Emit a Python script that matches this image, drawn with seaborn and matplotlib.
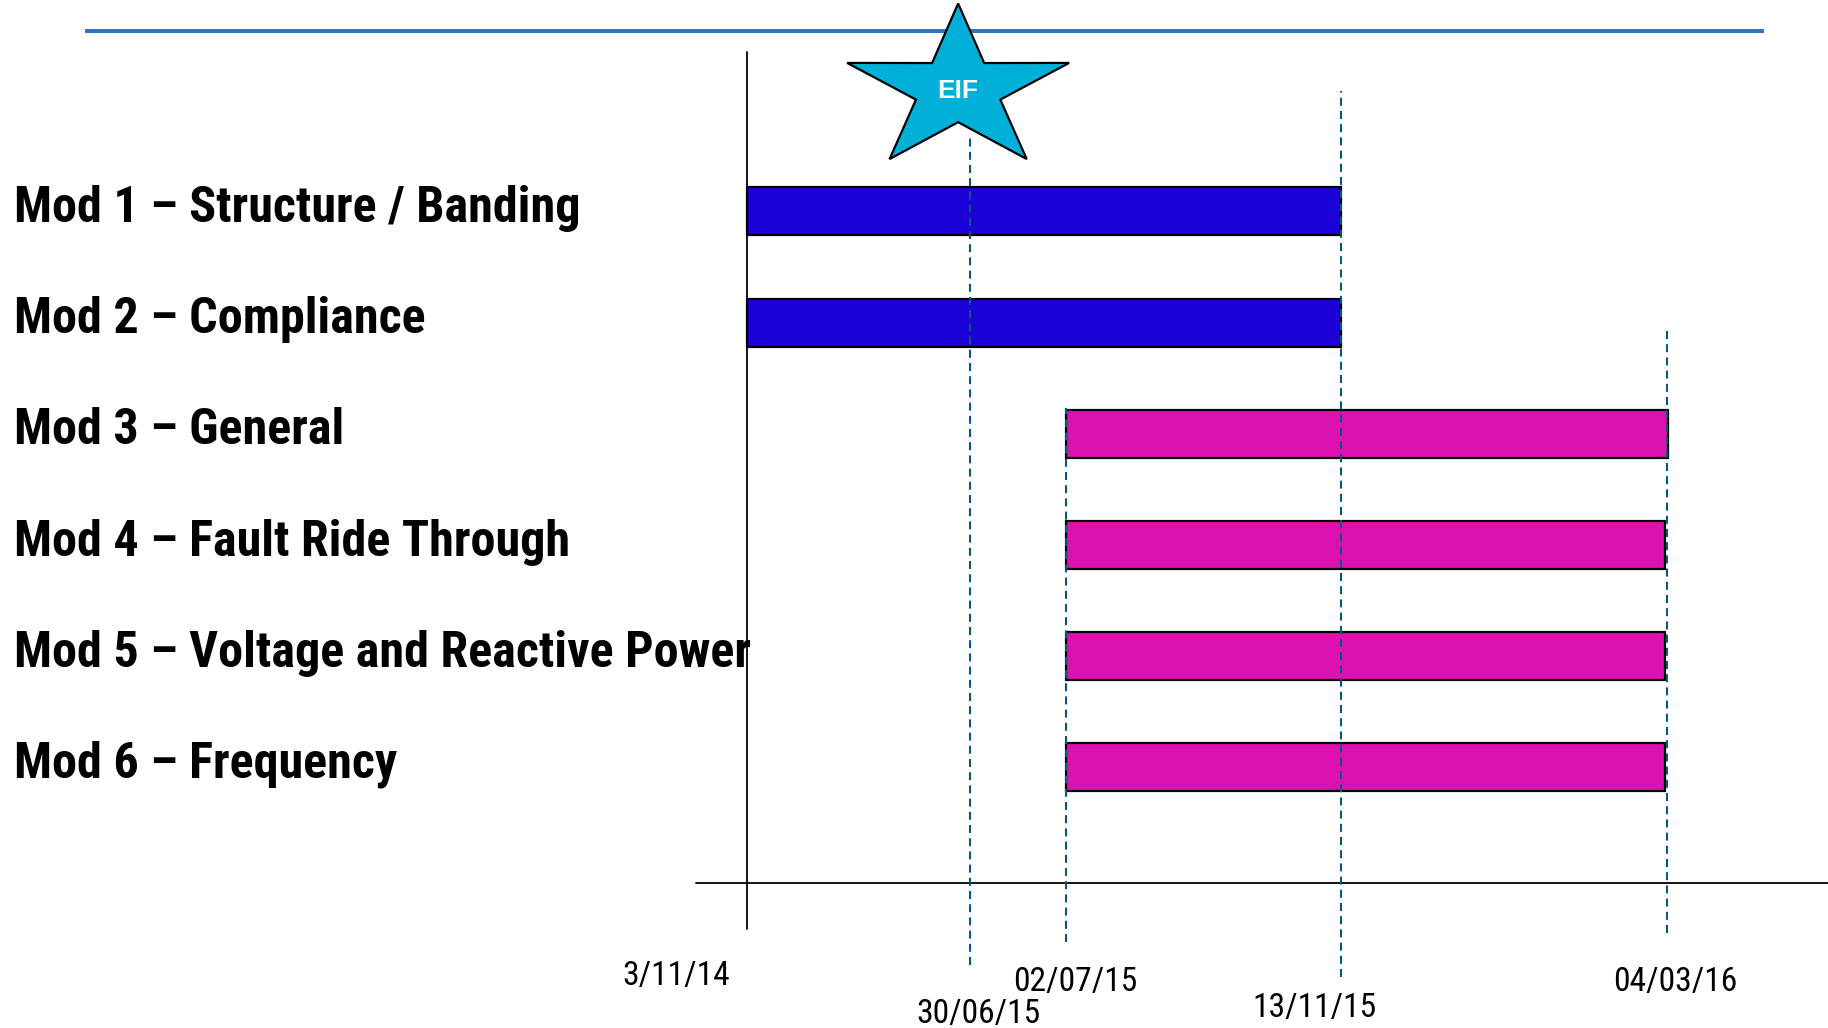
import numpy as np
import pandas as pd
import matplotlib
matplotlib.use("Agg")
import matplotlib.pyplot as plt
import seaborn as sns
from matplotlib import font_manager as fm
from matplotlib.patches import Polygon

# ---------------- data ----------------
modules = [
    "Mod 1 – Structure / Banding",
    "Mod 2 – Compliance",
    "Mod 3 – General",
    "Mod 4 – Fault Ride Through",
    "Mod 5 – Voltage and Reactive Power",
    "Mod 6 – Frequency",
]
# positions on the chart's own (non-proportional) timeline: 0 = 3/11/14, 100 = 04/03/16
task_start = [0.0, 0.0, 34.7, 34.7, 34.7, 34.7]
task_end = [64.6, 64.6, 100.1, 99.8, 99.8, 99.8]
task_phase = ["Phase 1", "Phase 1", "Phase 2", "Phase 2", "Phase 2", "Phase 2"]

milestone_labels = ["3/11/14", "30/06/15", "02/07/15", "13/11/15", "04/03/16"]
milestone_pos = [0.0, 24.2, 34.7, 64.6, 100.0]

event_label = "EIF"
event_milestone = "30/06/15"

# ---------------- styles / layout ----------------
W, H = 1828, 1028
phase_colors = {"Phase 1": "#1C00D8", "Phase 2": "#DC12B0"}
dash_color = "#005A78"
star_color = "#00B0D8"
top_line_color = "#2E75C4"

X0_PX, PX_PER_UNIT = 747, 9.2          # timeline 0 -> pixel 747
ROW0_PX, ROW_PITCH = 211.4, 111.2      # first row centre, row pitch (pixels)


def fy(px):
    return 1 - px / H


def fx(px):
    return px / W


def pt(px):
    return px * 0.72


sns.set_theme(style="white")


def _is_bold(w):
    if isinstance(w, (int, float)):
        return w >= 600
    return str(w).lower() in ("bold", "heavy", "black", "semibold", "demibold", "extra bold")


def pick_font(cands, bold):
    for c in cands:
        for f in fm.fontManager.ttflist:
            if f.name == c and f.style == "normal" and (_is_bold(f.weight) == bold):
                return c
    return "Liberation Sans"


narrow_cands = ["Liberation Sans Narrow", "Arial Narrow", "Roboto Condensed",
                "PT Sans Narrow", "Archivo Narrow", "Liberation Sans"]
label_family = pick_font(narrow_cands, True)
date_family = pick_font(narrow_cands, False)
plt.rcParams["font.family"] = [label_family, "Liberation Sans", "DejaVu Sans"]

fig = plt.figure(figsize=(W / 100, H / 100), dpi=100, facecolor="white")
ax = fig.add_axes([0, 0, 1, 1])

df = pd.DataFrame({
    "module": modules,
    "start": task_start,
    "duration": np.array(task_end) - np.array(task_start),
    "phase": task_phase,
})

sns.barplot(data=df, y="module", x="duration", left=df["start"].to_numpy(),
            orient="y", width=0.43, errorbar=None, color=phase_colors["Phase 1"],
            linewidth=pt(2.2), edgecolor="black", ax=ax, zorder=3)
for patch, ph in zip(ax.patches, df["phase"]):
    patch.set_facecolor(phase_colors[ph])
    patch.set_edgecolor("black")
    patch.set_linewidth(pt(2.2))

ax.set_xlim(-X0_PX / PX_PER_UNIT, (W - X0_PX) / PX_PER_UNIT)
ax.set_ylim((H - ROW0_PX) / ROW_PITCH, -ROW0_PX / ROW_PITCH)
ax.axis("off")

renderer = fig.canvas.get_renderer()


def fit_size(text, family, weight, target_px, base=30):
    t = fig.text(0, 0, text, fontsize=base, family=[family, "DejaVu Sans"], fontweight=weight)
    w = t.get_window_extent(renderer).width
    t.remove()
    return base * target_px / w


label_size = fit_size(modules[4], label_family, "bold", 736)
date_size = fit_size(milestone_labels[0], date_family, "normal", 108)

# module labels
for i, m in enumerate(modules):
    ax.annotate(m, xy=(fx(14), i), xycoords=("axes fraction", "data"),
                xytext=(0, pt(3)), textcoords="offset points",
                ha="left", va="center", fontsize=label_size, fontweight="bold",
                color="black", family=[label_family, "DejaVu Sans"], zorder=5)

# top blue rule
ax.plot([fx(85), fx(1764)], [fy(31), fy(31)], transform=ax.transAxes,
        color=top_line_color, lw=pt(4), solid_capstyle="butt", zorder=1)

# time axis lines
ax.plot([fx(696), fx(1828)], [fy(883), fy(883)], transform=ax.transAxes,
        color="black", lw=pt(1.8), zorder=2)
ax.axvline(milestone_pos[0], ymin=fy(929), ymax=fy(52), color="black",
           lw=pt(1.8), zorder=4)

# dashed milestone lines (extent per milestone, pixels)
dash_extent = {"30/06/15": (134, 965), "02/07/15": (408, 942),
               "13/11/15": (91, 977), "04/03/16": (331, 933)}
for lab, pos in zip(milestone_labels, milestone_pos):
    if lab in dash_extent:
        top, bot = dash_extent[lab]
        ax.axvline(pos, ymin=fy(bot), ymax=fy(top), color=dash_color,
                   lw=pt(2.0), dashes=(4.0, 2.6), zorder=4)

# milestone date labels (offset in px, centre y in px)
label_place = {"3/11/14": (-71, 976), "30/06/15": (9, 1014), "02/07/15": (9, 982),
               "13/11/15": (-27, 1008), "04/03/16": (8, 982)}
for lab, pos in zip(milestone_labels, milestone_pos):
    dx, ypx = label_place[lab]
    ax.annotate(lab, xy=(pos, fy(ypx)), xycoords=("data", "axes fraction"),
                xytext=(pt(dx), 0), textcoords="offset points",
                ha="center", va="center", fontsize=date_size, color="black",
                family=[date_family, "DejaVu Sans"])

# EIF star
ev_pos = milestone_pos[milestone_labels.index(event_milestone)]
cx_px = X0_PX + ev_pos * PX_PER_UNIT - 11.5
cy_px = 89.5
rx, ry, inner = 116.7, 86.0, 0.38
verts = []
for k in range(10):
    ang = np.pi / 2 + k * np.pi / 5
    r = 1.0 if k % 2 == 0 else inner
    verts.append((fx(cx_px + rx * r * np.cos(ang)), fy(cy_px - ry * r * np.sin(ang))))
star = Polygon(verts, closed=True, transform=ax.transAxes, facecolor=star_color,
               edgecolor="black", linewidth=pt(2.2), zorder=6)
ax.add_patch(star)
ax.text(fx(cx_px), fy(cy_px + 1.5), event_label, transform=ax.transAxes,
        ha="center", va="center", fontsize=19, fontweight="bold", color="white",
        family=["Liberation Sans", "DejaVu Sans"], zorder=7)

fig.savefig("out.png", dpi=100, facecolor="white")
